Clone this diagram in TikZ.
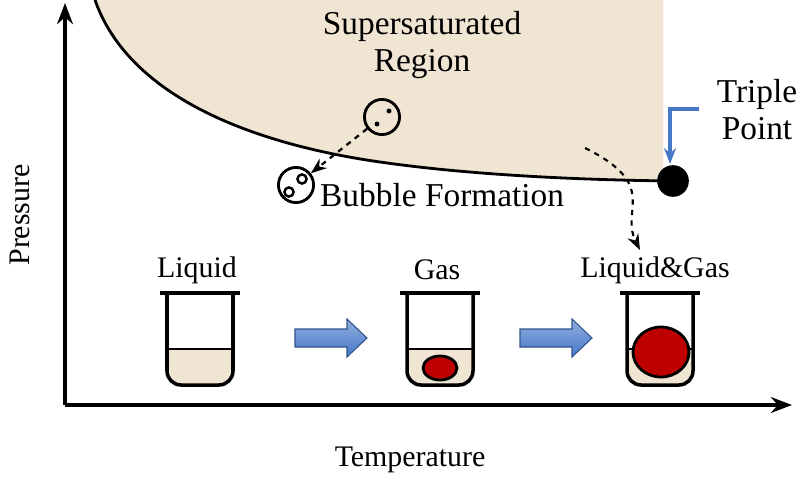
\documentclass[tikz,border=0pt]{standalone}
\usepackage{fontspec}
\setmainfont{Liberation Serif}
\usetikzlibrary{arrows.meta}
\definecolor{sand}{RGB}{240,228,210}
\definecolor{wine}{RGB}{190,0,0}
\definecolor{arrowblue}{RGB}{70,120,200}
\tikzset{
  lbl/.style={font=\fontsize{17}{19}\selectfont},
  biglbl/.style={font=\fontsize{19}{22}\selectfont, align=center},
  bubble/.style={circle, draw, line width=1.6pt, minimum size=20pt, inner sep=0pt},
  flow/.style={draw=arrowblue!70!black, line width=0.6pt, top color=arrowblue!60, bottom color=arrowblue},
}
\newcommand{\beaker}[1]{%
  \fill[sand,rounded corners=8pt] (#1-33,349) -- (#1-33,385) -- (#1+33,385) -- (#1+33,349) -- cycle;
  \fill[sand] (#1-33,349) rectangle (#1+33,360);
  \draw[line width=2pt] (#1-40,293) -- (#1+40,293);
  \draw[line width=2pt,rounded corners=8pt] (#1-33,293) -- (#1-33,385) -- (#1+33,385) -- (#1+33,293);
  \draw[line width=1.6pt] (#1-33,349) -- (#1+33,349);
}
\newcommand{\blockarrow}[2]{%
  \shade[flow] (#1,#2-9) -- (#1+52,#2-9) -- (#1+52,#2-19) -- (#1+72,#2) -- (#1+52,#2+19)
    -- (#1+52,#2+9) -- (#1,#2+9) -- cycle;
}
\begin{document}
\begin{tikzpicture}[x=0.02cm,y=-0.02cm]
\useasboundingbox (0,0) rectangle (800,480);
% shaded region
\fill[sand] (95,0) .. controls (130,100) and (260,145) .. (380,162)
  .. controls (470,175) and (580,180) .. (663,181) -- (663,0) -- cycle;
\draw[line width=1.6pt] (95,0) .. controls (130,100) and (260,145) .. (380,162)
  .. controls (470,175) and (580,180) .. (673,181);
% axes
\coordinate (origin) at (65,405);
\coordinate (ytop) at (65,3);
\coordinate (xend) at (792,405);
\draw[line width=2.4pt,-{Stealth[length=12pt]}] (origin) -- (ytop);
\draw[line width=2.4pt,-{Stealth[length=12pt]}] (origin) -- (xend);
\node[lbl,rotate=90] (pres) at (20,215) {Pressure};
\node[lbl] (temp) at (410,460) {Temperature};
% labels in diagram
\node[biglbl] (region) at (422,45) {Supersaturated\\[-1pt]Region};
\node[biglbl] (triple) at (757,110) {Triple\\[-1pt]Point};
\node[circle,fill=black,minimum size=18pt,inner sep=0pt] (tp) at (673,181) {};
\coordinate (bendA) at (699,109);
\coordinate (bendB) at (670,109);
\draw[arrowblue,line width=2.2pt,-{Stealth[length=9pt]}] (bendA) -- (bendB) -- (670,164);
% bubbles
\node[bubble] (b1) at (382,117) {};
\fill (377,124) circle (1.4pt) (389,111) circle (1.4pt);
\node[bubble] (b2) at (296,185) {};
\draw[line width=1.4pt] (289,192) circle (2.6pt) (302,179) circle (2.6pt);
\draw[dashed,line width=1.3pt,-{Stealth[length=9pt]}] (b1) -- (b2);
\node[lbl,font=\fontsize{19}{21}\selectfont,anchor=west] (bf) at (314,195) {Bubble Formation};
\coordinate (dstart) at (585,148);
\coordinate (dend) at (640,250);
\draw[dashed,line width=1.2pt,-{Stealth[length=9pt]}] (dstart) .. controls (660,185) and (620,210) .. (dend);
% beakers
\beaker{200}
\beaker{440}
\beaker{660}
\draw[line width=1.6pt,fill=wine] (440,368) ellipse (17 and 12);
\draw[line width=1.6pt,fill=wine] (661,352) ellipse (28 and 25);
\node[lbl] (liq) at (197,270) {Liquid};
\node[lbl] (gas) at (437,270) {Gas};
\node[lbl] (lg) at (655,270) {Liquid\&Gas};
\blockarrow{295}{338}
\blockarrow{520}{338}
\end{tikzpicture}
\end{document}
